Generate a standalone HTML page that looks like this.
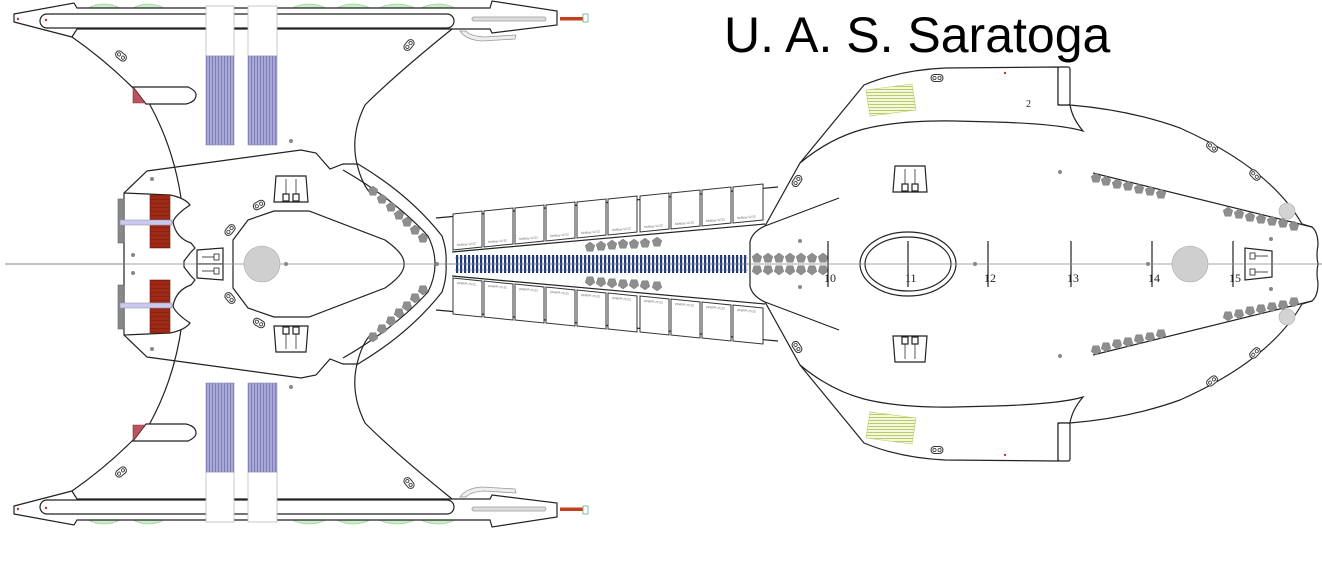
<!DOCTYPE html>
<html><head><meta charset="utf-8"><style>
html,body{margin:0;padding:0;background:#fff;width:1322px;height:562px;overflow:hidden}
svg{display:block}
</style></head><body>
<svg width="1322" height="562" viewBox="0 0 1322 562" xmlns="http://www.w3.org/2000/svg" xmlns:xlink="http://www.w3.org/1999/xlink">
<defs>
<g id="pent"><polygon points="0,-5 4.8,-1.5 3,4.2 -3,4.2 -4.8,-1.5" fill="#8e8e8e" stroke="#777" stroke-width="0.5"/></g>
<g id="cap"><rect x="-6" y="-3.5" width="12" height="7" rx="3.5" fill="#fff" stroke="#333" stroke-width="1"/><circle cx="-2.5" cy="0" r="1.6" fill="none" stroke="#333" stroke-width="0.8"/><circle cx="2.5" cy="0" r="1.6" fill="none" stroke="#333" stroke-width="0.8"/></g>
<g id="turret"><polygon points="0,0 30,0 32,26 -2,26" fill="#fff" stroke="#222" stroke-width="1.2"/><line x1="10" y1="3" x2="10" y2="18" stroke="#333" stroke-width="0.8"/><line x1="20" y1="3" x2="20" y2="18" stroke="#333" stroke-width="0.8"/><rect x="7" y="18" width="6" height="7" fill="#fff" stroke="#222"/><rect x="17" y="18" width="6" height="7" fill="#fff" stroke="#222"/></g>
<pattern id="blue" width="4" height="20" patternUnits="userSpaceOnUse"><rect x="0" y="0" width="2.2" height="20" fill="#1f3a7a"/></pattern>
<pattern id="lav" width="3" height="10" patternUnits="userSpaceOnUse"><rect width="3" height="10" fill="#a9a9d6"/><rect x="2" width="1" height="10" fill="#7f7fb8"/></pattern>
<pattern id="grn" width="10" height="3" patternUnits="userSpaceOnUse"><rect width="10" height="3" fill="#f4f7dc"/><rect y="2" width="10" height="1" fill="#b8cc6a"/></pattern>
<pattern id="brn" width="10" height="4" patternUnits="userSpaceOnUse"><rect width="10" height="4" fill="#9e2a16"/><rect y="3" width="10" height="0.6" fill="#7a1e10"/></pattern>

<g id="half" fill="none" stroke="#222" stroke-width="1.2">
  <g fill="#c9efc9" stroke="#9fd09f" stroke-width="0.8">
    <path d="M88,8 Q104,0 120,8Z"/><path d="M133,8 Q148,0 164,8Z"/>
    <path d="M292,8 Q309,0 326,8Z"/><path d="M337,8 Q353,0 370,8Z"/>
    <path d="M379,8 Q397,0 415,8Z"/><path d="M421,8 Q438,0 455,8Z"/>
  </g>
  <path d="M14,14 L74,3 L77,8 L490,8 L492,1 L557,11 L557,25 L492,33 L490,29 L77,29 L72,37 L14,22 Z" fill="#fff"/>
  <rect x="40" y="14" width="414" height="14" rx="7" fill="#fff"/>
  <circle cx="18" cy="19" r="1.2" fill="#b33" stroke="none"/>
  <circle cx="46" cy="20" r="1.2" fill="#b33" stroke="none"/>
  <rect x="472" y="17" width="74" height="4" rx="2" fill="#ddd" stroke="#999" stroke-width="0.8"/>
  <rect x="560" y="17" width="23" height="3.5" fill="#c4401c" stroke="none"/>
  <rect x="583" y="14" width="5" height="8" fill="#fff" stroke="#6a8" stroke-width="0.8"/>
  <path d="M460,31 Q466,40 482,41 L515,39 L516,35 L484,37 Q470,36 466,31Z" fill="#eee" stroke="#999" stroke-width="0.8"/>
  <rect x="206" y="6" width="28" height="50" fill="#fff" stroke="#bbb" stroke-width="0.8"/>
  <rect x="248" y="6" width="29" height="50" fill="#fff" stroke="#bbb" stroke-width="0.8"/>
  <rect x="206" y="56" width="28" height="89" fill="url(#lav)" stroke="#8a8abb" stroke-width="0.6"/>
  <rect x="248" y="56" width="29" height="89" fill="url(#lav)" stroke="#8a8abb" stroke-width="0.6"/>
  <use href="#cap" transform="translate(121,56) rotate(40)"/>
  <use href="#cap" transform="translate(409,45) rotate(-50)"/>
  <circle cx="291" cy="141" r="2" fill="#888" stroke="none"/>
  <path d="M124,264 L124,193 L147,171 L301,150 L316,153 L330,169 L343,164 L358,164 Q410,195 442,236 Q447,250 446,264" fill="#fff"/>
  <path d="M72,37 Q105,60 133,88 L149,103 Q175,150 182,205" />
  <path d="M452,29 Q395,75 365,105 Q350,135 357,164 Q362,185 372,195" />
  <path d="M133,87 L188,87 Q197,91 196,96 Q195,102 186,104 L146,104 Z" fill="#fff"/>
  <polygon points="133,87 145,103 133,103" fill="#b85560" stroke="#833" stroke-width="0.6"/>
  <path d="M343,170 Q395,200 428,236 Q435,250 435,264"/>
  <path d="M124,193 L170,195 Q185,198 190,205 Q175,215 173,222 Q176,238 191,243 L195,248 L191,252 L184,261 L184,264" fill="#fff"/>
  <rect x="118" y="199" width="6" height="44" fill="#888" stroke="#666" stroke-width="0.6"/>
  <rect x="150" y="195" width="20" height="53" fill="url(#brn)" stroke="#7a1e10" stroke-width="0.6"/>
  <rect x="120" y="220" width="52" height="5" fill="#c9c9f0" stroke="#99a" stroke-width="0.6"/>
  <circle cx="152" cy="179" r="2" fill="#888" stroke="none"/>
  <circle cx="133" cy="255" r="2" fill="#888" stroke="none"/>
  <polygon points="197,250 223,248 223,264 197,264" fill="#fff"/>
  <line x1="202" y1="257" x2="214" y2="257" stroke-width="0.8"/><rect x="214" y="254" width="5" height="6" fill="#fff" stroke-width="0.8"/>
  <path d="M233,264 L233,240 L248,220 L274,211 L309,211 L385,240 Q405,254 404,264" fill="#fff"/>
  <use href="#turret" transform="translate(276,176)"/>
  <use href="#cap" transform="translate(259,205) rotate(-30)"/>
  <use href="#cap" transform="translate(230,230) rotate(-50)"/>
  <g>
    <use href="#pent" x="373" y="191"/><use href="#pent" x="382" y="199"/><use href="#pent" x="391" y="207"/>
    <use href="#pent" x="399" y="215"/><use href="#pent" x="407" y="222"/><use href="#pent" x="415" y="230"/><use href="#pent" x="423" y="238"/>
  </g>
  <path d="M436,218 L778,187" />
  <path d="M452,252 L765,224" />
  <g fill="#fff" stroke="#333" stroke-width="1">
    <polygon points="453,214 482,211 482,247 453,250"/>
    <polygon points="484,211 513,208 513,244 484,247"/>
    <polygon points="515,208 544,205 544,241 515,244"/>
    <polygon points="546,205 575,202 575,238 546,241"/>
    <polygon points="577,202 606,199 606,235 577,238"/>
    <polygon points="608,199 637,196 637,232 608,235"/>
    <polygon points="640,196 669,193 669,229 640,232"/>
    <polygon points="671,193 700,190 700,226 671,229"/>
    <polygon points="702,190 731,187 731,223 702,226"/>
    <polygon points="733,187 763,184 763,220 733,223"/>
  </g>
  <g font-family="Liberation Sans, sans-serif" font-size="3" fill="#555" stroke="none">
    <text x="457" y="246" transform="rotate(-5 457 246)">Sickbay 12-22</text>
    <text x="488" y="243" transform="rotate(-5 488 243)">Sickbay 12-22</text>
    <text x="519" y="240" transform="rotate(-5 519 240)">Sickbay 12-22</text>
    <text x="550" y="237" transform="rotate(-5 550 237)">Sickbay 12-22</text>
    <text x="581" y="234" transform="rotate(-5 581 234)">Sickbay 12-22</text>
    <text x="612" y="231" transform="rotate(-5 612 231)">Sickbay 12-22</text>
    <text x="644" y="228" transform="rotate(-5 644 228)">Sickbay 12-22</text>
    <text x="675" y="225" transform="rotate(-5 675 225)">Sickbay 12-22</text>
    <text x="706" y="222" transform="rotate(-5 706 222)">Sickbay 12-22</text>
    <text x="737" y="219" transform="rotate(-5 737 219)">Sickbay 12-22</text>
  </g>
  <use href="#pent" x="590" y="247"/><use href="#pent" x="601" y="246"/><use href="#pent" x="612" y="245"/><use href="#pent" x="623" y="244"/><use href="#pent" x="634" y="244"/><use href="#pent" x="645" y="243"/><use href="#pent" x="657" y="242"/>
  <rect x="455" y="255" width="293" height="9" fill="url(#blue)" stroke="none"/>
  <line x1="455" y1="258" x2="748" y2="258" stroke="#667" stroke-width="0.6"/>
  <path d="M750,264 L750,242 Q752,232 765,226 Q785,190 800,163 L864,85 Q900,70 945,68 L1058,67 L1058,105 L1070,105 Q1130,110 1180,128 Q1270,168 1302,224 L1312,227 Q1318,232 1318,245 Q1316,255 1318,264" fill="#fff"/>
  <path d="M800,163 Q830,138 864,129 Q900,120 955,121 L995,122 Q1060,124 1083,131 Q1072,118 1070,105"/>
  <path d="M765,226 L839,198"/>
  <rect x="1058" y="67" width="12" height="38" rx="2" fill="#fff"/>
  <polygon points="866,90 912,84 916,110 870,116" fill="url(#grn)" stroke="#b8cc6a" stroke-width="0.6"/>
  <circle cx="1005" cy="73" r="1.2" fill="#c33" stroke="none"/>
  <use href="#cap" transform="translate(937,78)"/>
  <use href="#cap" transform="translate(797,181) rotate(-55)"/>
  <use href="#cap" transform="translate(1212,147) rotate(40)"/>
  <use href="#cap" transform="translate(1255,175) rotate(45)"/>
  <use href="#turret" transform="translate(895,166)"/>
  <circle cx="800" cy="241" r="2" fill="#888" stroke="none"/>
  <circle cx="1060" cy="172" r="2" fill="#888" stroke="none"/>
  <circle cx="975" cy="264" r="2" fill="#888" stroke="none"/>
  <circle cx="1148" cy="264" r="2" fill="#888" stroke="none"/>
  <circle cx="1271" cy="239" r="2" fill="#888" stroke="none"/>
  <g>
    <use href="#pent" x="757" y="258"/><use href="#pent" x="768" y="258"/><use href="#pent" x="779" y="258"/><use href="#pent" x="790" y="258"/><use href="#pent" x="801" y="258"/><use href="#pent" x="812" y="258"/><use href="#pent" x="823" y="258"/>
  </g>
  <line x1="1093" y1="173" x2="1312" y2="227"/>
  <g>
    <use href="#pent" x="1096" y="178"/><use href="#pent" x="1106" y="181"/><use href="#pent" x="1117" y="184"/><use href="#pent" x="1128" y="186"/><use href="#pent" x="1139" y="189"/><use href="#pent" x="1150" y="191"/><use href="#pent" x="1161" y="194"/>
    <use href="#pent" x="1228" y="212"/><use href="#pent" x="1239" y="214"/><use href="#pent" x="1250" y="217"/><use href="#pent" x="1261" y="219"/><use href="#pent" x="1272" y="221"/><use href="#pent" x="1283" y="223"/><use href="#pent" x="1294" y="226"/>
  </g>
  <circle cx="1287" cy="211" r="8" fill="#d3d3d3" stroke="#aaa" stroke-width="0.6"/>
  <g stroke="#222" stroke-width="1.2">
    <line x1="828" y1="241" x2="828" y2="264"/><line x1="988" y1="241" x2="988" y2="264"/>
    <line x1="1071" y1="241" x2="1071" y2="264"/><line x1="1152" y1="241" x2="1152" y2="264"/><line x1="1233" y1="241" x2="1233" y2="264"/>
  </g>
  <path d="M860,264 A48,32 0 0 1 956,264" fill="#fff"/>
  <path d="M865,264 A43,27 0 0 1 951,264"/>
  <line x1="908" y1="241" x2="908" y2="264"/>
  <path d="M1245,264 L1245,248 L1272,251 L1272,264" fill="#fff"/>
  <line x1="1255" y1="256" x2="1268" y2="256" stroke-width="0.8"/><rect x="1250" y="253" width="5" height="6" fill="#fff" stroke-width="0.8"/>
</g>
</defs>

<line x1="5" y1="264" x2="1322" y2="264" stroke="#888" stroke-width="1"/>
<use href="#half"/>
<use href="#half" transform="translate(0,528) scale(1,-1)"/>
<line x1="5" y1="264" x2="1322" y2="264" stroke="#888" stroke-width="0.8"/>
<circle cx="262" cy="264" r="18" fill="#cfcfcf" stroke="#aaa" stroke-width="0.6"/>
<circle cx="286" cy="264" r="2" fill="#888"/>
<circle cx="437" cy="264" r="2" fill="#888"/>
<circle cx="1190" cy="264" r="18" fill="#cfcfcf" stroke="#aaa" stroke-width="0.6"/>
<g font-family="Liberation Serif, serif" font-size="12" fill="#222">
  <text x="824" y="282">10</text><text x="905" y="282">11</text><text x="984" y="282">12</text>
  <text x="1067" y="282">13</text><text x="1148" y="282">14</text><text x="1229" y="282">15</text>
  <text x="1026" y="107" font-size="10">2</text>
</g>
<text x="724" y="52" font-family="Liberation Sans, sans-serif" font-size="50" fill="#000">U. A. S. Saratoga</text>
</svg>
</body></html>
